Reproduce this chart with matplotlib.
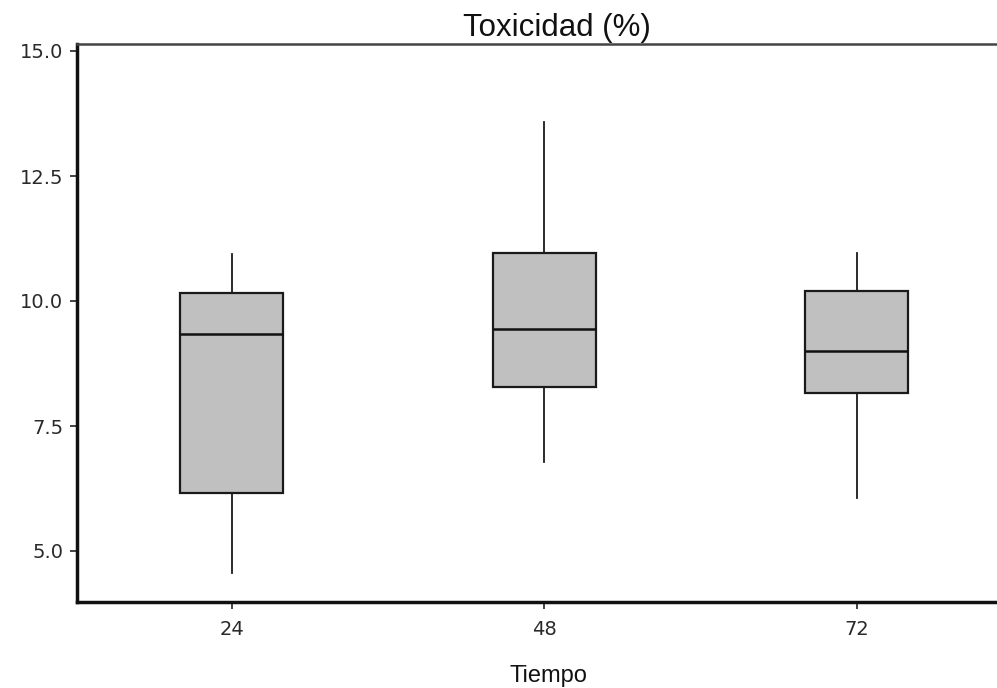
import matplotlib
matplotlib.use("Agg")
import matplotlib.pyplot as plt

# Resumen por grupo (bigotes, cuartiles, mediana)
tiempos = ["24", "48", "72"]
bigote_inf = [4.56, 6.78, 6.06]
q1 = [6.16, 8.28, 8.16]
mediana = [9.34, 9.44, 9.00]
q3 = [10.16, 10.96, 10.20]
bigote_sup = [10.94, 13.58, 10.96]

stats = [
    {"label": t, "whislo": lo, "q1": a, "med": m, "q3": b, "whishi": hi, "fliers": []}
    for t, lo, a, m, b, hi in zip(tiempos, bigote_inf, q1, mediana, q3, bigote_sup)
]

fig = plt.figure(figsize=(9.97, 6.88), dpi=100)
ax = fig.add_axes([77 / 997, 86 / 688, 942 / 997, 558 / 688])

ax.bxp(
    stats,
    positions=range(len(tiempos)),
    widths=0.33,
    patch_artist=True,
    showcaps=False,
    boxprops=dict(facecolor="#c0c0c0", edgecolor="#1a1a1a", linewidth=1.6),
    medianprops=dict(color="#111111", linewidth=1.8),
    whiskerprops=dict(color="#1a1a1a", linewidth=1.3),
)

ax.set_xlim(-0.496, 2.52)
ax.set_ylim(3.98, 15.14)
ax.set_yticks([5.0, 7.5, 10.0, 12.5, 15.0])
ax.set_yticklabels(["5.0", "7.5", "10.0", "12.5", "15.0"])
ax.set_xticks(range(len(tiempos)))
ax.set_xticklabels(tiempos)
ax.tick_params(axis="both", length=5, width=1.2, color="#222222",
               labelsize=14, labelcolor="#2a2a2a")
ax.tick_params(axis="y", pad=5)
ax.tick_params(axis="x", pad=8)

for lado in ("left", "bottom"):
    ax.spines[lado].set_linewidth(2.5)
    ax.spines[lado].set_color("#111111")
ax.spines["top"].set_linewidth(1.8)
ax.spines["top"].set_color("#444444")
ax.spines["right"].set_visible(False)

fig.text(557 / 997, 1 - 36 / 688, "Toxicidad (%)", ha="center", va="baseline",
         fontsize=22.5, family="Liberation Sans", color="#111111")
fig.text(548 / 997, 1 - 682 / 688, "Tiempo", ha="center", va="baseline",
         fontsize=17, family="Liberation Sans", color="#111111")

fig.savefig("out.png", dpi=100)
